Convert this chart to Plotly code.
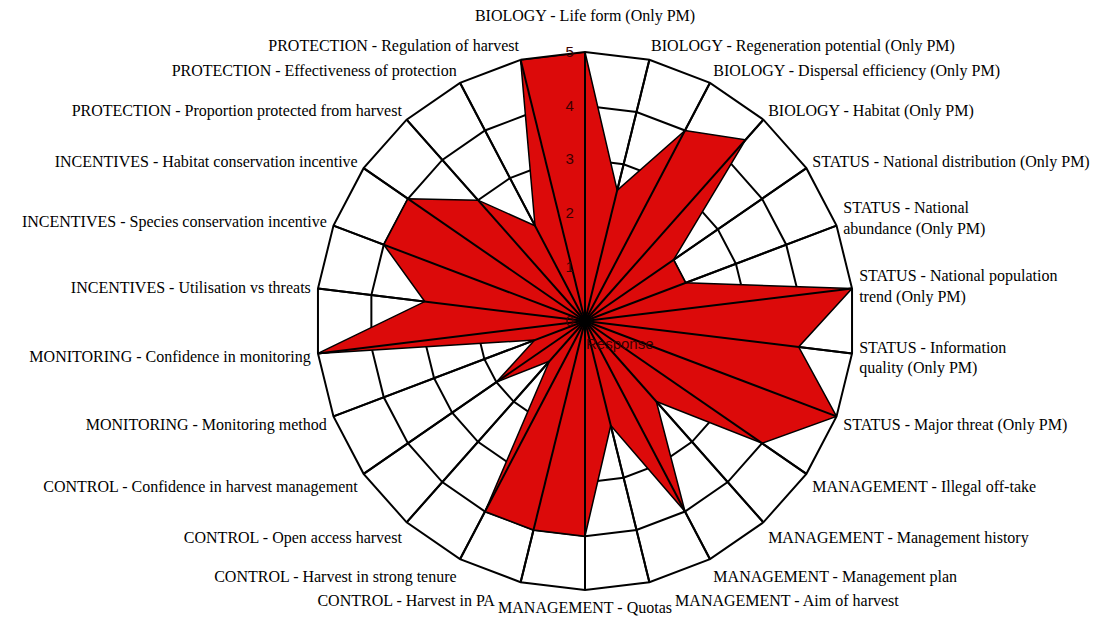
import plotly.graph_objects as go

SP = "\u2002"  # en space, keeps neighbouring bottom labels apart

categories = [
    "BIOLOGY - Life form (Only PM)<br> ",
    "BIOLOGY - Regeneration potential (Only PM)",
    "BIOLOGY - Dispersal efficiency (Only PM)",
    "BIOLOGY - Habitat (Only PM)",
    "STATUS - National distribution (Only PM)",
    "STATUS - National<br>abundance (Only PM)",
    "STATUS - National population<br>trend (Only PM)",
    "STATUS - Information<br>quality (Only PM)",
    "STATUS - Major threat (Only PM)",
    "MANAGEMENT - Illegal off-take",
    "MANAGEMENT - Management history",
    "MANAGEMENT - Management plan",
    SP * 3 + "MANAGEMENT - Aim of harvest",
    "MANAGEMENT - Quotas",
    "CONTROL - Harvest in PA" + SP * 3,
    "CONTROL - Harvest in strong tenure",
    "CONTROL - Open access harvest",
    "CONTROL - Confidence in harvest management",
    "MONITORING - Monitoring method",
    "MONITORING - Confidence in monitoring",
    "INCENTIVES - Utilisation vs threats",
    "INCENTIVES - Species conservation incentive",
    "INCENTIVES - Habitat conservation incentive",
    "PROTECTION - Proportion protected from harvest",
    "PROTECTION - Effectiveness of protection",
    "PROTECTION - Regulation of harvest",
]

response = [5, 2.5, 4, 4.5, 2, 2, 5, 4, 5, 4, 2, 4, 2, 4, 4, 4, 1, 2, 1, 5, 3, 4, 4, 3, 2, 5]

radial_ticks = [0, 1, 2, 3, 4, 5]

W, H = 1114, 624
# page body has an 8px margin, so figure coords are screen coords minus 8
cx, cy, R = 577, 313, 269

# spokes drawn over the filled area (as in the original chart)
spoke_r, spoke_theta = [], []
for c in categories:
    spoke_r += [radial_ticks[0], radial_ticks[-1], None]
    spoke_theta += [c, c, None]

fig = go.Figure()
fig.add_trace(go.Scatterpolar(
    r=response + response[:1],
    theta=categories + categories[:1],
    mode="lines",
    fill="toself",
    fillcolor="#DC0A0A",
    line=dict(color="black", width=1.5),
    name="Response",
    showlegend=False,
))
fig.add_trace(go.Scatterpolar(
    r=spoke_r, theta=spoke_theta, mode="lines",
    line=dict(color="black", width=2),
    hoverinfo="skip", showlegend=False,
))

fig.update_layout(
    width=W, height=H,
    margin=dict(l=0, r=0, t=0, b=0),
    paper_bgcolor="white",
    polar=dict(
        domain=dict(x=[(cx - R) / W, (cx + R) / W], y=[(H - cy - R) / H, (H - cy + R) / H]),
        bgcolor="white",
        gridshape="linear",
        angularaxis=dict(
            type="category",
            categoryorder="array",
            categoryarray=categories,
            rotation=90,
            direction="clockwise",
            showgrid=True,
            gridcolor="black",
            gridwidth=2,
            showline=True,
            linecolor="black",
            linewidth=2,
            ticks="outside",
            ticklen=3,
            tickcolor="rgba(0,0,0,0)",
            tickfont=dict(family="Liberation Serif", size=16, color="black"),
            layer="above traces",
        ),
        radialaxis=dict(
            range=[radial_ticks[0], radial_ticks[-1]],
            tickvals=radial_ticks,
            ticktext=[str(t) for t in radial_ticks],
            angle=90,
            tickangle=90,
            side="counterclockwise",
            showgrid=True,
            gridcolor="black",
            gridwidth=2,
            showline=True,
            linecolor="black",
            linewidth=2,
            ticks="outside",
            ticklen=5,
            tickcolor="rgba(0,0,0,0)",
            tickfont=dict(family="Liberation Sans", size=15, color="#3a0000"),
            layer="above traces",
        ),
    ),
    annotations=[dict(
        text="Response", x=(584 - 8) / W, y=1 - (343 - 8) / H, xref="paper", yref="paper",
        xanchor="left", yanchor="middle", showarrow=False,
        font=dict(family="Liberation Sans", size=15, color="#3a0000"),
    )],
)

fig.write_html("out.html")
